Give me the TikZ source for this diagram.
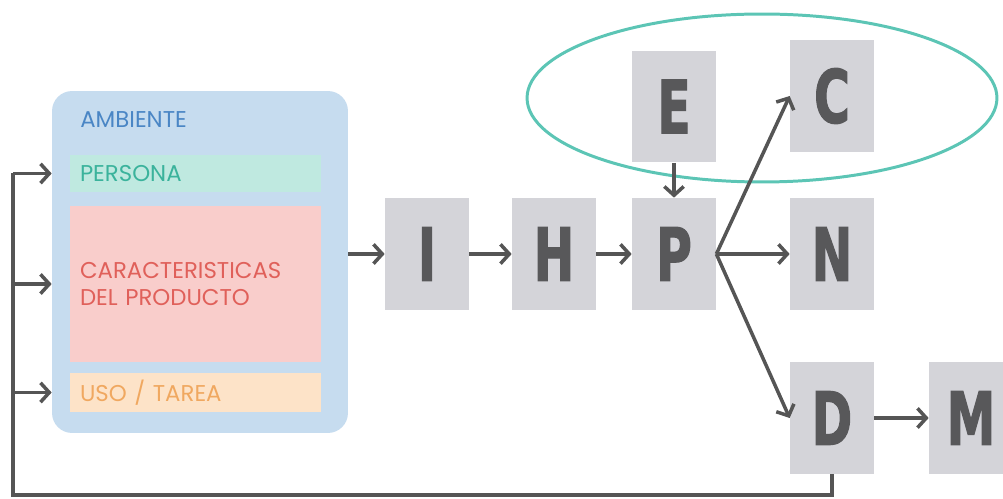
\documentclass[tikz,border=0pt]{standalone}
\usepackage{fontspec}
\usepackage{tikz}
\usetikzlibrary{arrows.meta,calc}
\newfontfamily\letterfont[FakeStretch=0.66,FakeBold=1.5]{DejaVu Sans}
\newfontfamily\labelfont{Poppins}
\definecolor{ambblue}{HTML}{C6DCEF}
\definecolor{ambtext}{HTML}{4A86C5}
\definecolor{perfill}{HTML}{BFE9E0}
\definecolor{pertext}{HTML}{3BB39C}
\definecolor{carfill}{HTML}{F9CDCB}
\definecolor{cartext}{HTML}{E0605A}
\definecolor{usofill}{HTML}{FDE3C8}
\definecolor{usotext}{HTML}{F0A860}
\definecolor{boxgray}{HTML}{D4D4D9}
\definecolor{lettergray}{HTML}{58585A}
\definecolor{arrowgray}{HTML}{555555}
\definecolor{ringteal}{HTML}{5CC5B5}
\tikzset{
  letra/.style={rectangle, fill=boxgray, minimum width=1.68cm, minimum height=2.24cm, inner sep=0pt,
    font=\letterfont\bfseries\fontsize{42}{42}\selectfont, text=lettergray},
  franja/.style={rectangle, inner ysep=0pt, inner xsep=0.2cm, text width=4.62cm, align=left,
    font=\labelfont\fontsize{13}{15.5}\selectfont},
  flecha/.style={draw=arrowgray, line width=2pt, -{Straight Barb[length=5pt,width=11pt]}},
  linea/.style={draw=arrowgray, line width=2pt},
}
\begin{document}
\begin{tikzpicture}[x=0.02cm, y=-0.02cm]
  \useasboundingbox (0,0) rectangle (1003,499);
  % ambiente
  \node[fill=ambblue, rounded corners=0.4cm, minimum width=5.92cm, minimum height=6.84cm] (amb) at (200,262) {};
  \node[anchor=west, inner sep=0pt, text=ambtext, font=\labelfont\fontsize{13}{15.5}\selectfont] (ambt) at (80,120) {AMBIENTE};
  \node[franja, fill=perfill, text=pertext, minimum height=0.74cm] (per) at (195.5,173.5) {PERSONA};
  \node[franja, fill=carfill, text=cartext, minimum height=3.12cm] (car) at (195.5,284) {CARACTERISTICAS\\DEL PRODUCTO};
  \node[franja, fill=usofill, text=usotext, minimum height=0.78cm] (uso) at (195.5,392.5) {USO / TAREA};
  % ring
  \draw[ringteal, line width=1.7pt] (762,98) ellipse [x radius=4.7cm, y radius=1.68cm];
  % letters
  \node[letra] (I) at (427,254) {I};
  \node[letra] (H) at (554,254) {H};
  \node[letra] (P) at (674,254) {P};
  \node[letra] (N) at (832,254) {N};
  \node[letra] (E) at (674,106.5) {E};
  \node[letra] (C) at (832,96) {C};
  \node[letra] (D) at (832,418) {D};
  \node[letra] (M) at (971,418) {M};
  % flow
  \draw[flecha] (amb.east |- I.west) -- (I);
  \draw[flecha] (I) -- (H);
  \draw[flecha] (H) -- (P);
  \draw[flecha] (E) -- (P);
  \draw[flecha] (P.east) -- (N.west);
  \draw[flecha] (P.east) -- (C.west);
  \draw[flecha] (P.east) -- (D.west);
  \draw[flecha] (D) -- (M);
  % feedback
  \coordinate (fb) at (13,495);
  \draw[linea] (D.south) |- (fb) -- (fb |- per.west);
  \draw[flecha] (fb |- per.west) -- (amb.west |- per.west);
  \draw[flecha] (fb |- car.west) -- (amb.west |- car.west);
  \draw[flecha] (fb |- uso.west) -- (amb.west |- uso.west);
\end{tikzpicture}
\end{document}
